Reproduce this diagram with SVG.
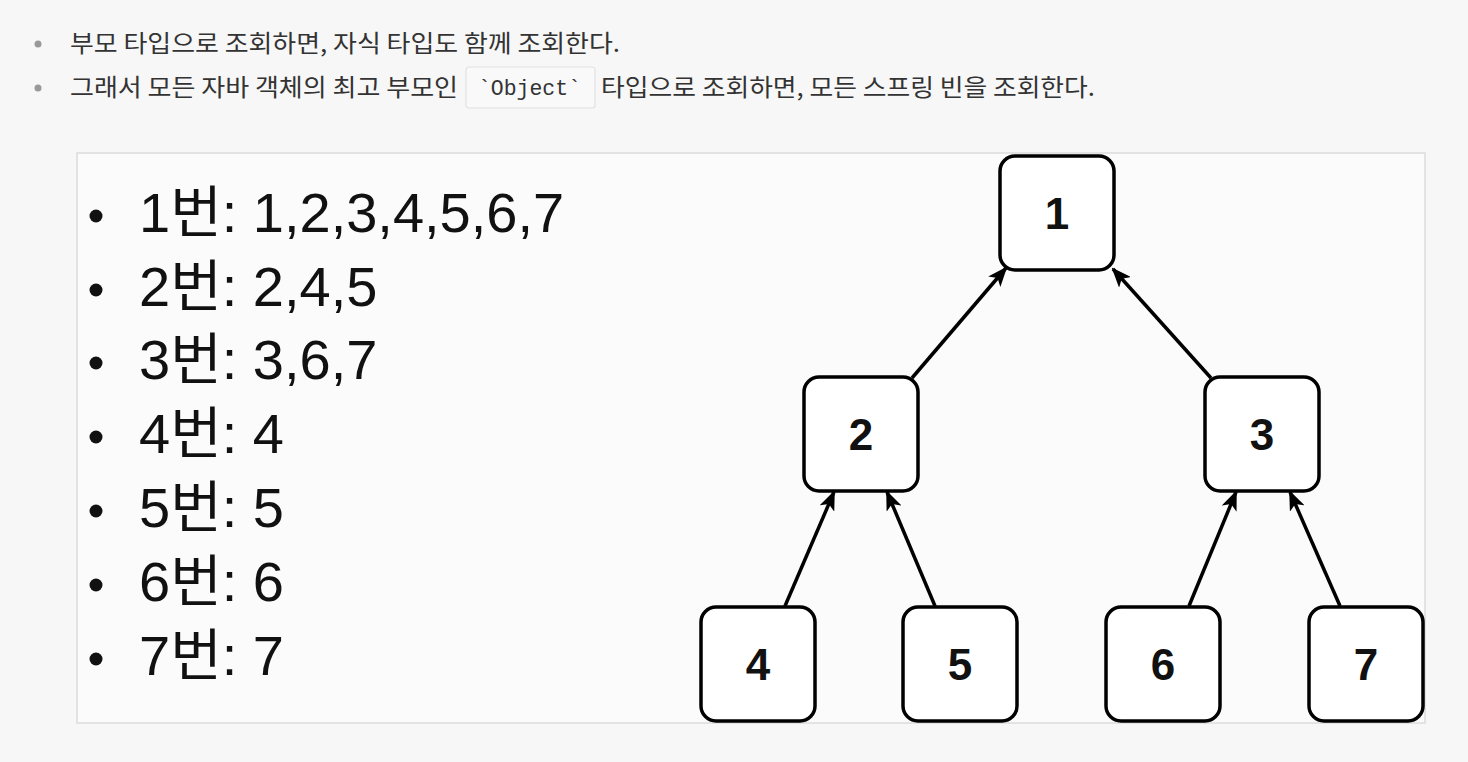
<svg xmlns="http://www.w3.org/2000/svg" width="1468" height="762" viewBox="0 0 1468 762">
<style>
.top{font-family:"Noto Sans CJK KR","Noto Sans",sans-serif;font-size:24px;fill:#333}
.code{font-family:"Liberation Mono","DejaVu Sans Mono",monospace;font-size:22px;fill:#333}
.li{font-family:"Liberation Sans","Noto Sans CJK KR",sans-serif;font-size:56px;fill:#111}
.node rect{fill:#fff;stroke:#000;stroke-width:3.5}
.node text{font-family:"Liberation Sans",Arial,sans-serif;font-size:44px;font-weight:bold;fill:#111;text-anchor:middle}
.edge{stroke:#000;stroke-width:3.5;fill:none;marker-end:url(#ah)}
</style>
<defs>
<marker id="ah" markerUnits="userSpaceOnUse" markerWidth="20" markerHeight="16" refX="18" refY="8" orient="auto">
<path d="M0,0 L20,8 L0,16 L5,8 Z" fill="#000"/>
</marker>
</defs>
<rect width="1468" height="762" fill="#f7f7f7"/>
<g id="header">
<circle cx="38" cy="44" r="3.5" fill="#999"/>
<text class="top" x="70" y="52" textLength="550" lengthAdjust="spacingAndGlyphs">부모 타입으로 조회하면, 자식 타입도 함께 조회한다.</text>
<circle cx="38" cy="88" r="3.5" fill="#999"/>
<text class="top" x="70" y="96" textLength="388" lengthAdjust="spacingAndGlyphs">그래서 모든 자바 객체의 최고 부모인</text>
<rect x="466" y="67" width="129" height="41" rx="3" fill="#f9f9f9" stroke="#e2e2e2" stroke-width="1.2"/>
<text class="code" x="478" y="95" textLength="103" lengthAdjust="spacingAndGlyphs">`Object`</text>
<text class="top" x="601" y="96" textLength="494" lengthAdjust="spacingAndGlyphs">타입으로 조회하면, 모든 스프링 빈을 조회한다.</text>
</g>
<rect id="panel" x="77" y="153" width="1348" height="570" fill="#fbfbfb" stroke="#dcdcdc" stroke-width="1.5"/>
<g id="list">
<circle cx="96" cy="216" r="6.5" fill="#111"/>
<text class="li" x="139" y="232">1번: 1,2,3,4,5,6,7</text>
<circle cx="96" cy="290" r="6.5" fill="#111"/>
<text class="li" x="139" y="306">2번: 2,4,5</text>
<circle cx="96" cy="363" r="6.5" fill="#111"/>
<text class="li" x="139" y="379">3번: 3,6,7</text>
<circle cx="96" cy="437" r="6.5" fill="#111"/>
<text class="li" x="139" y="453">4번: 4</text>
<circle cx="96" cy="511" r="6.5" fill="#111"/>
<text class="li" x="139" y="527">5번: 5</text>
<circle cx="96" cy="585" r="6.5" fill="#111"/>
<text class="li" x="139" y="601">6번: 6</text>
<circle cx="96" cy="659" r="6.5" fill="#111"/>
<text class="li" x="139" y="675">7번: 7</text>
</g>
<g id="connectors">
<line class="edge" x1="912" y1="378" x2="1006" y2="268"/>
<line class="edge" x1="1211" y1="378" x2="1113" y2="269"/>
<line class="edge" x1="785" y1="606" x2="834" y2="492"/>
<line class="edge" x1="935" y1="606" x2="887" y2="492"/>
<line class="edge" x1="1189" y1="606" x2="1236" y2="492"/>
<line class="edge" x1="1340" y1="606" x2="1290" y2="492"/>
</g>
<g id="n1" class="node"><rect x="1000" y="156" width="114" height="114" rx="15"/><text x="1057" y="229">1</text></g>
<g id="n2" class="node"><rect x="804" y="377" width="114" height="114" rx="15"/><text x="861" y="450">2</text></g>
<g id="n3" class="node"><rect x="1205" y="377" width="114" height="114" rx="15"/><text x="1262" y="450">3</text></g>
<g id="n4" class="node"><rect x="701" y="607" width="114" height="114" rx="15"/><text x="758" y="680">4</text></g>
<g id="n5" class="node"><rect x="903" y="607" width="114" height="114" rx="15"/><text x="960" y="680">5</text></g>
<g id="n6" class="node"><rect x="1106" y="607" width="114" height="114" rx="15"/><text x="1163" y="680">6</text></g>
<g id="n7" class="node"><rect x="1309" y="607" width="114" height="114" rx="15"/><text x="1366" y="680">7</text></g>
</svg>
